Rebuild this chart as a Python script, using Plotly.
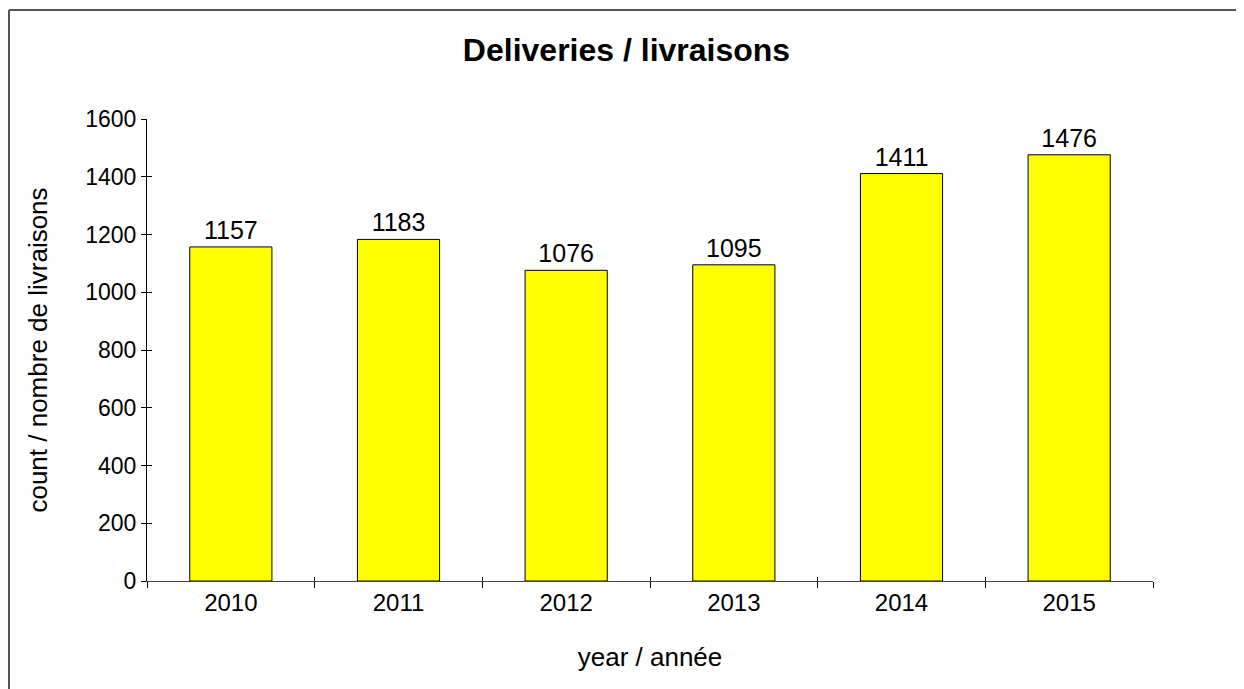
import plotly.graph_objects as go

years = ["2010", "2011", "2012", "2013", "2014", "2015"]
deliveries = [1157, 1183, 1076, 1095, 1411, 1476]
y_ticks = [0, 200, 400, 600, 800, 1000, 1200, 1400, 1600]

FONT = "Liberation Sans, Arial, sans-serif"

# page body adds an 8px offset; plot area targeted at x 147..1153, y 119..581 in the viewport
fig = go.Figure()
fig.add_trace(go.Bar(
    x=years, y=deliveries,
    marker=dict(color="#FFFF00", line=dict(color="#000000", width=1)),
    width=0.49,
    text=[str(v) for v in deliveries], textposition="outside",
    textfont=dict(family=FONT, size=25, color="#000000"),
    cliponaxis=False, showlegend=False,
))
# invisible helper trace for the overlay axes that draw the inner half of the crossing ticks
fig.add_trace(go.Scatter(
    x=years, y=deliveries, xaxis="x2", yaxis="y2", mode="markers",
    marker=dict(opacity=0), hoverinfo="skip", showlegend=False,
))

BX = (1 - 139) / 1006      # left frame line (paper coords)
BY = (581 - 10) / 462      # top frame line (paper coords)
frame = dict(color="#555555", width=2)

fig.update_layout(
    width=1236, height=681,
    margin=dict(l=139, r=91, t=111, b=108),
    paper_bgcolor="white", plot_bgcolor="white",
    font=dict(family=FONT, size=23, color="#000000"),
    title=dict(text="<b>Deliveries / livraisons</b>", x=618.5 / 1236, xanchor="center",
               y=1 - 42 / 681, yanchor="middle", yref="container",
               font=dict(family=FONT, size=32, color="#000000")),
    xaxis=dict(type="category", categoryarray=years, range=[-0.5, 5.5],
               tickson="boundaries", ticks="outside", ticklen=6, tickwidth=1, tickcolor="#000",
               showline=True, linecolor="#444", linewidth=1, showgrid=False, zeroline=False,
               title=dict(text="year / année", standoff=33, font=dict(size=26)),
               tickfont=dict(size=24)),
    yaxis=dict(range=[0, 1600], tickvals=y_ticks, ticks="outside", ticklen=5, tickwidth=1,
               tickcolor="#000", showline=True, linecolor="#000", linewidth=1,
               showgrid=False, zeroline=False,
               title=dict(text="count / nombre de livraisons", standoff=30, font=dict(size=26)),
               tickfont=dict(size=23)),
    xaxis2=dict(type="category", categoryarray=years, range=[-0.5, 5.5], overlaying="x",
                anchor="y2", tickson="boundaries", ticks="inside", ticklen=4, tickwidth=1,
                tickcolor="#000", showticklabels=False, showline=False, showgrid=False,
                zeroline=False),
    yaxis2=dict(range=[0, 1600], tickvals=y_ticks, overlaying="y", anchor="x2", side="left",
                ticks="inside", ticklen=5, tickwidth=1, tickcolor="#000",
                showticklabels=False, showline=False, showgrid=False, zeroline=False),
    shapes=[
        dict(type="line", xref="paper", yref="paper", x0=BX, x1=1.3, y0=BY, y1=BY,
             line=frame, layer="below"),
        dict(type="line", xref="paper", yref="paper", x0=BX, x1=BX, y0=-0.5, y1=BY,
             line=frame, layer="below"),
    ],
)

fig.write_html("out.html")
